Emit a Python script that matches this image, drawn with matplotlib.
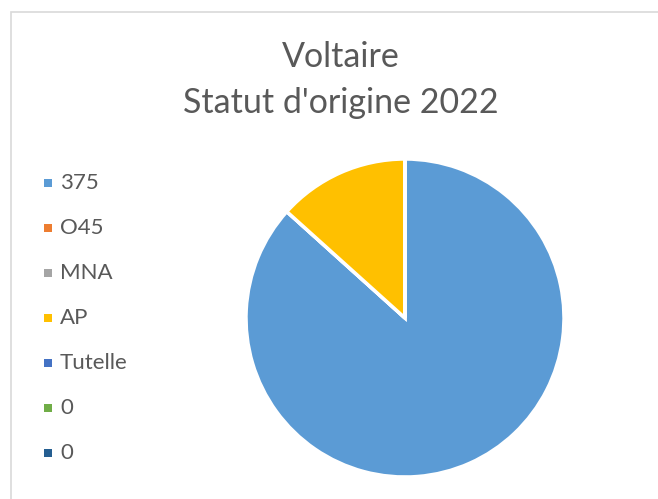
import matplotlib.pyplot as plt
from matplotlib.patches import Rectangle

plt.rcParams['font.family'] = ['Lato', 'DejaVu Sans']

labels = ['375', 'O45', 'MNA', 'AP', 'Tutelle', '0', '0']
values = [13, 0, 0, 2, 0, 0, 0]
colors = ['#5B9BD5', '#ED7D31', '#A5A5A5', '#FFC000', '#4472C4', '#70AD47', '#255E91']

W, H = 658, 499
fig = plt.figure(figsize=(W / 100, H / 100), dpi=100)

# chart area border (cropped on right and bottom)
fig.patches.append(Rectangle((11 / W, -0.1), 1.1, 1 - 12 / H + 0.1, transform=fig.transFigure,
                             fill=False, edgecolor='#D9D9D9', linewidth=1.2))

fig.text(341 / W, 1 - 57 / H, 'Voltaire', ha='center', va='center', fontsize=24.5, color='#595959')
fig.text(341 / W, 1 - 103 / H, "Statut d'origine 2022", ha='center', va='center', fontsize=24.5, color='#595959')

cx, cy, r = 405, 318, 159
ax = fig.add_axes([(cx - r) / W, (H - cy - r) / H, 2 * r / W, 2 * r / H])
ax.pie(values, colors=colors, startangle=90, counterclock=False,
       wedgeprops=dict(edgecolor='white', linewidth=2.5))
ax.set_xlim(-1, 1)
ax.set_ylim(-1, 1)
ax.set_aspect('equal')
ax.axis('off')

# legend, Excel style: small squares, wide row spacing
for i, (lab, c) in enumerate(zip(labels, colors)):
    y = 183 + 45 * i
    fig.patches.append(Rectangle((43.5 / W, 1 - (y + 4) / H), 8 / W, 8 / H,
                                 transform=fig.transFigure, facecolor=c, edgecolor='none'))
    fig.text(60 / W, 1 - y / H, lab, ha='left', va='center', fontsize=16, color='#595959')

plt.savefig('out.png', dpi=100)
